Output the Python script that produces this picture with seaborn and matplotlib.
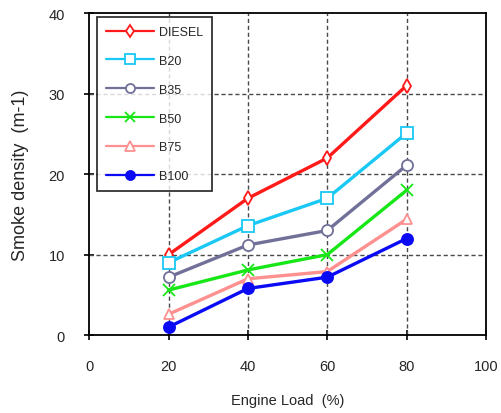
import numpy as np
import pandas as pd
import matplotlib
matplotlib.use('Agg')
import matplotlib.pyplot as plt
import seaborn as sns

sns.set_style('white')
plt.rcParams['font.family'] = ['Liberation Sans', 'DejaVu Sans']

# data
load = [20, 40, 60, 80]
diesel = [10.0, 17.0, 22.0, 31.0]
b20 = [9.0, 13.6, 17.0, 25.1]
b35 = [7.2, 11.2, 13.0, 21.1]
b50 = [5.6, 8.1, 10.0, 18.0]
b75 = [2.6, 7.0, 7.9, 14.4]
b100 = [1.0, 5.8, 7.2, 12.0]

fuels = ['DIESEL', 'B20', 'B35', 'B50', 'B75', 'B100']
values = [diesel, b20, b35, b50, b75, b100]

colors = ['#ff1a1a', '#19c8f5', '#707098', '#17e617', '#ff9090', '#0a0af5']
markers = ['d', 's', 'o', 'x', '^', 'o']
filled = [False, False, False, True, False, True]
msizes = [7, 8, 8, 8, 7, 8]

fig = plt.figure(figsize=(5.01, 4.14), dpi=100)
ax = fig.add_axes([0.178, 0.188, 0.792, 0.778])

for name, vals, c, m, f, ms in zip(fuels, values, colors, markers, filled, msizes):
    df = pd.DataFrame({'load': load, 'smoke': vals})
    sns.lineplot(data=df, x='load', y='smoke', ax=ax, color=c, lw=2.4,
                 marker=m, markersize=ms, markeredgewidth=1.3,
                 markerfacecolor=(c if f else 'white'), markeredgecolor=c,
                 label=name, zorder=3)

ax.set_xlim(0, 100)
ax.set_ylim(0, 40)
ax.set_xticks([0, 20, 40, 60, 80, 100])
ax.set_yticks([0, 10, 20, 30, 40])

# dashed grid only at inner ticks
for x in [20, 40, 60, 80]:
    ax.axvline(x, color='#4a4a4a', ls=(0, (3, 2)), lw=1, zorder=1)
for y in [10, 20, 30]:
    ax.axhline(y, color='#4a4a4a', ls=(0, (3, 2)), lw=1, zorder=1)

for s in ax.spines.values():
    s.set_color('black')
    s.set_linewidth(1.3)

ax.tick_params(axis='both', direction='inout', length=7, width=1.2,
               labelsize=10.5, pad=14, color='black', bottom=True, left=True)
ax.set_xlabel('Engine Load  (%)', fontsize=10.5, labelpad=14)
ax.set_ylabel('Smoke density  (m-1)', fontsize=13, labelpad=14)

leg = ax.legend(loc='upper left', bbox_to_anchor=(0.013, 0.995), fontsize=9,
                frameon=True, fancybox=False, edgecolor='black',
                handlelength=3.9, labelspacing=1.35, borderpad=0.7,
                handletextpad=0.4, borderaxespad=0.2)
leg.get_frame().set_linewidth(1.3)
for h in leg.legend_handles:
    h.set_linewidth(1.6)
    h.set_markersize(6.5)

fig.savefig('out.png', dpi=100)
